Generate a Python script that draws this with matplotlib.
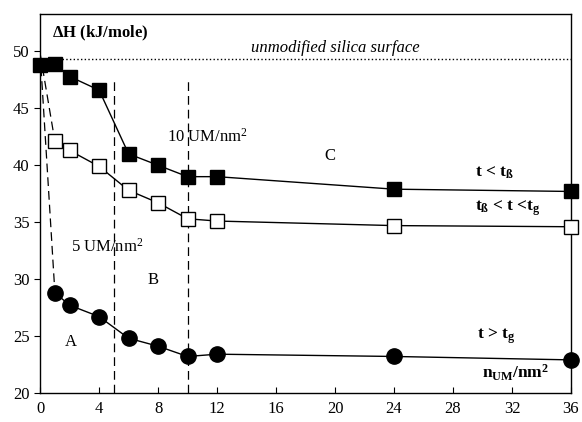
import matplotlib
matplotlib.use("Agg")
import matplotlib.pyplot as plt

plt.rcParams['font.family'] = ['Liberation Serif', 'DejaVu Serif']
plt.rcParams['mathtext.fontset'] = 'custom'
plt.rcParams['mathtext.rm'] = 'Liberation Serif'
plt.rcParams['mathtext.it'] = 'Liberation Serif:italic'
plt.rcParams['mathtext.bf'] = 'Liberation Serif:bold'

# Datos
x_lleno = [0, 1, 2, 4, 6, 8, 10, 12, 24, 36]
y_lleno = [48.8, 48.9, 47.8, 46.6, 41.0, 40.0, 39.0, 39.0, 37.9, 37.7]

x_abierto = [1, 2, 4, 6, 8, 10, 12, 24, 36]
y_abierto = [42.1, 41.3, 39.9, 37.8, 36.7, 35.3, 35.1, 34.7, 34.6]

x_circulo = [1, 2, 4, 6, 8, 10, 12, 24, 36]
y_circulo = [28.8, 27.7, 26.7, 24.8, 24.1, 23.2, 23.4, 23.2, 22.9]

nivel_silice = 49.3
origen = (0, 49.8)
limites = [5, 10]

fig = plt.figure(figsize=(5.82, 4.22), dpi=100)
ax = fig.add_axes([0.069, 0.069, 0.912, 0.898])

ax.axhline(nivel_silice, color='black', linestyle=':', linewidth=1)
for xl in limites:
    ax.plot([xl, xl], [20, 47.5], color='black', linestyle=(0, (7, 4)), linewidth=0.9)

# lineas discontinuas desde el origen
ax.plot([origen[0], x_abierto[0]], [origen[1], y_abierto[0]], color='black',
        linestyle=(0, (7, 4)), linewidth=0.9)
ax.plot([origen[0], x_circulo[0]], [origen[1], y_circulo[0]], color='black',
        linestyle=(0, (7, 4)), linewidth=0.9)

ax.plot(x_lleno, y_lleno, color='black', linewidth=1, marker='s', markersize=10,
        markerfacecolor='black', markeredgecolor='black', clip_on=False, zorder=3)
ax.plot(x_abierto, y_abierto, color='black', linewidth=1, marker='s', markersize=10,
        markerfacecolor='white', markeredgecolor='black', clip_on=False, zorder=3)
ax.plot(x_circulo, y_circulo, color='black', linewidth=1, marker='o', markersize=11,
        markerfacecolor='black', markeredgecolor='black', clip_on=False, zorder=3)

ax.set_xlim(0, 36)
ax.set_ylim(20, 53.3)
ax.set_xticks(range(0, 37, 4))
ax.set_yticks(range(20, 51, 5))
ax.tick_params(axis='x', direction='in', length=4, labelsize=12, pad=6)
ax.tick_params(axis='y', direction='out', length=4, labelsize=12)
for s in ax.spines.values():
    s.set_linewidth(1)

# textos
ax.text(0.8, 51.6, r'$\mathbf{\Delta H}$ (kJ/mole)', fontsize=12, fontweight='bold', va='center')
ax.text(20, 50.3, 'unmodified silica surface', fontsize=12, style='italic', ha='center', va='center')
ax.text(8.6, 42.5, r'10 UM/nm$^2$', fontsize=12, va='center')
ax.text(19.3, 40.8, 'C', fontsize=12, va='center')
ax.text(29.5, 39.3, r't < t$_{\mathbf{ß}}$', fontsize=12.5, fontweight='bold', va='center')
ax.text(29.5, 36.2, r't$_{\mathbf{ß}}$ < t <t$_{\mathbf{g}}$', fontsize=12.5, fontweight='bold', va='center')
ax.text(2.1, 32.8, r'5 UM/nm$^2$', fontsize=12, va='center')
ax.text(7.3, 29.9, 'B', fontsize=12, va='center')
ax.text(1.7, 24.5, 'A', fontsize=12, va='center')
ax.text(29.6, 25.0, r't > t$_{\mathbf{g}}$', fontsize=12.5, fontweight='bold', va='center')
ax.text(30.0, 21.8, r'n$_{\mathbf{UM}}$/nm$^{\mathbf{2}}$', fontsize=12.5, fontweight='bold', va='center')

fig.savefig('out.png', dpi=100)
